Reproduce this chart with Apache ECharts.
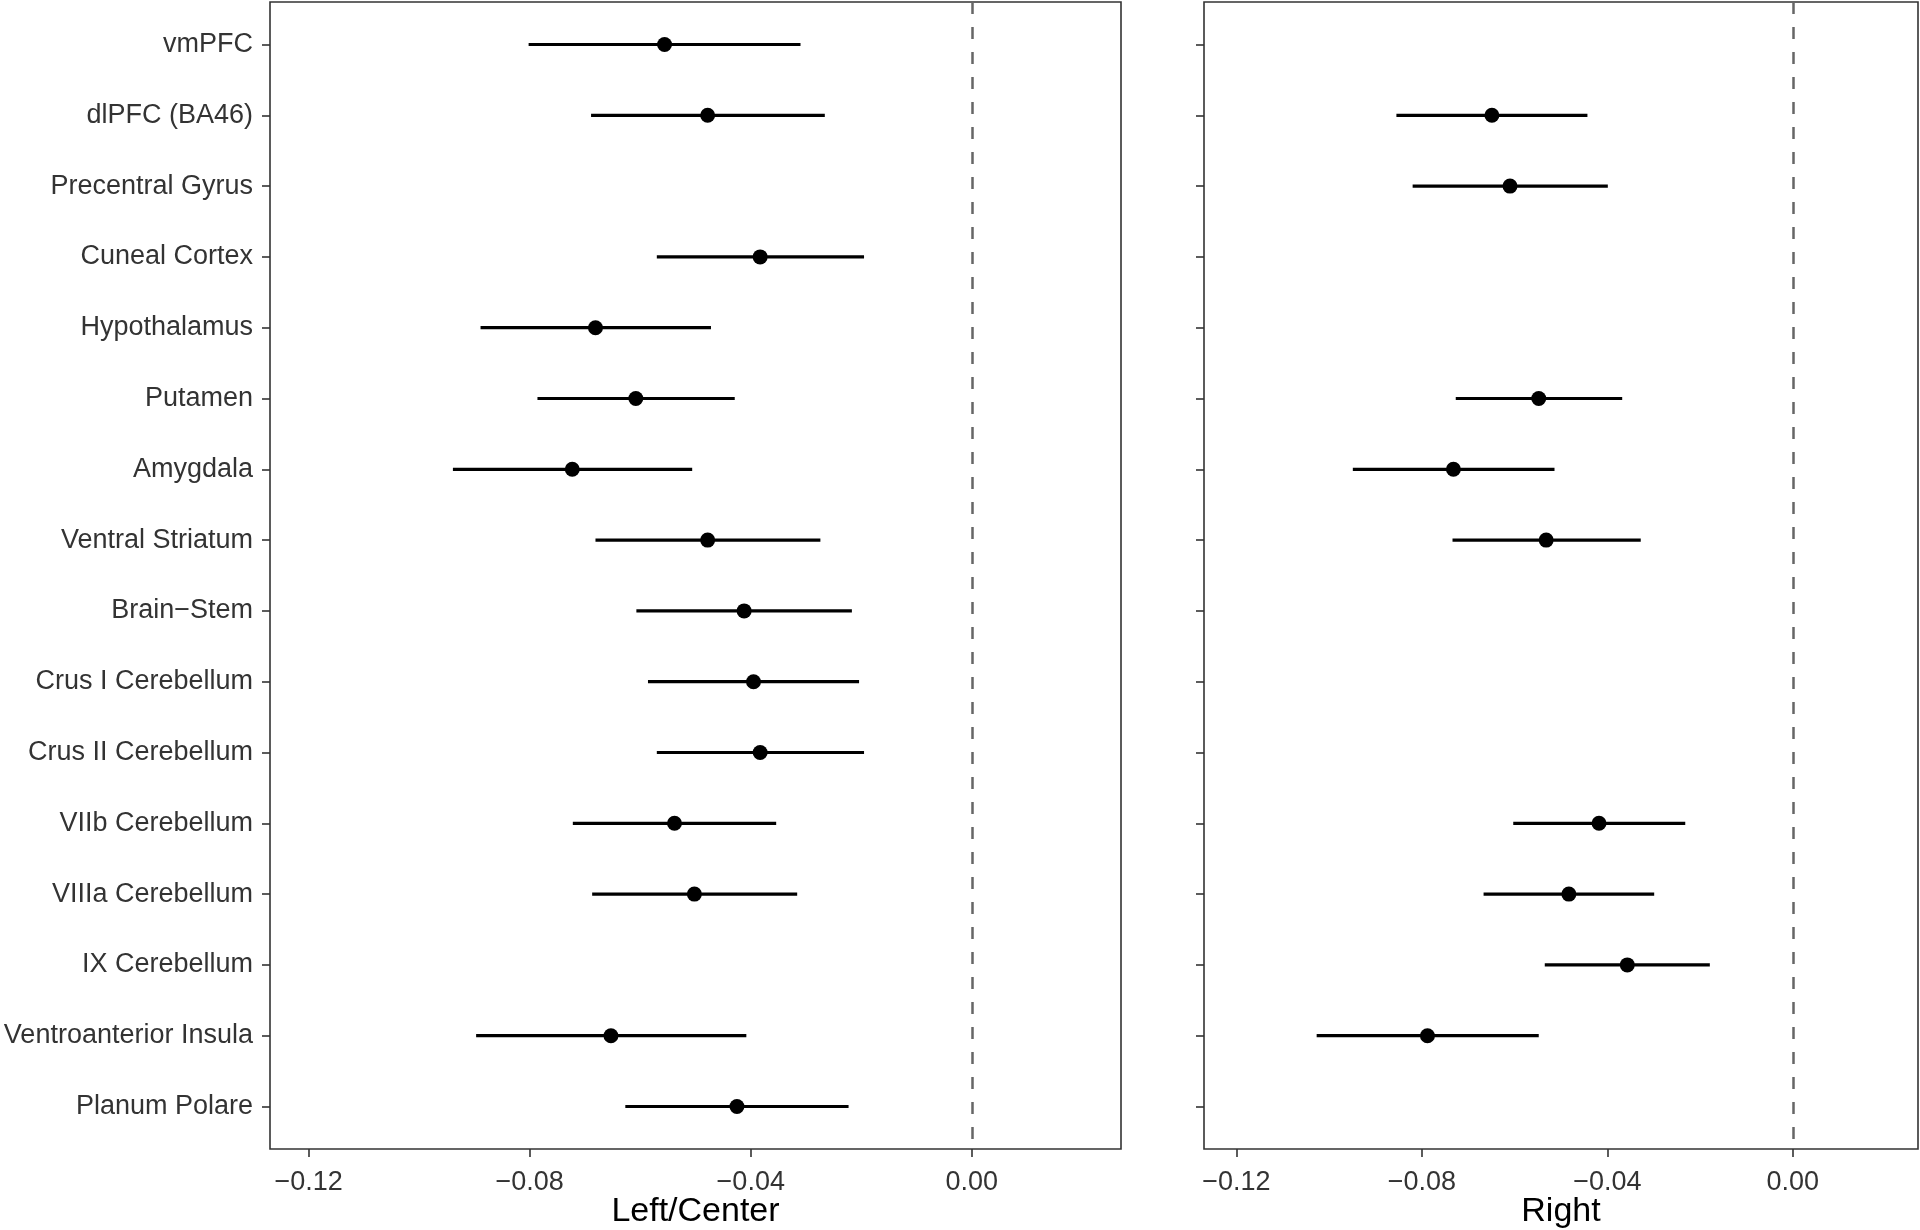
<!DOCTYPE html>
<html>
<head>
<meta charset="utf-8">
<script src="https://cdn.jsdelivr.net/npm/echarts@6/dist/echarts.min.js"></script>
<style>
html,body{margin:0;padding:0;background:#fff;}
#chart{width:1920px;height:1230px;}
</style>
</head>
<body>
<div id="chart"></div>
<script>
const categories = ['vmPFC','dlPFC (BA46)','Precentral Gyrus','Cuneal Cortex','Hypothalamus','Putamen','Amygdala','Ventral Striatum','Brain\u2212Stem','Crus I Cerebellum','Crus II Cerebellum','VIIb Cerebellum','VIIIa Cerebellum','IX Cerebellum','Ventroanterior Insula','Planum Polare'];

const leftEst = [-0.0556,-0.0478,null,-0.0383,-0.0681,-0.0608,-0.0723,-0.0478,-0.0412,-0.0395,-0.0383,-0.0538,-0.0502,null,-0.0653,-0.0425];
const leftLo  = [-0.0802,-0.0689,null,-0.0570,-0.0889,-0.0786,-0.0939,-0.0681,-0.0607,-0.0586,-0.0570,-0.0722,-0.0687,null,-0.0897,-0.0627];
const leftHi  = [-0.0310,-0.0266,null,-0.0195,-0.0472,-0.0429,-0.0506,-0.0274,-0.0217,-0.0204,-0.0195,-0.0354,-0.0316,null,-0.0408,-0.0223];

const rightEst = [null,-0.0649,-0.0610,null,null,-0.0548,-0.0732,-0.0532,null,null,null,-0.0418,-0.0483,-0.0357,-0.0788,null];
const rightLo  = [null,-0.0855,-0.0820,null,null,-0.0727,-0.0949,-0.0734,null,null,null,-0.0603,-0.0667,-0.0535,-0.1027,null];
const rightHi  = [null,-0.0443,-0.0399,null,null,-0.0368,-0.0514,-0.0328,null,null,null,-0.0232,-0.0299,-0.0179,-0.0548,null];

const xTicks = [-0.12,-0.08,-0.04,0];
const panelTitles = ['Left/Center','Right'];

const FONT = '"Liberation Sans", Arial, Helvetica, sans-serif';
const catIdx = categories.map((c,i)=>i);

function fmtX(v){ return (v < 0 ? '\u2212' : '') + Math.abs(v).toFixed(2); }

function xAxisFor(gi){
  return {
    type:'value', gridIndex:gi, min:-0.127, max:0.027, position:'bottom',
    name: panelTitles[gi], nameLocation:'middle', nameGap:46, nameMoveOverlap:false,
    nameTextStyle:{fontSize:34, color:'#000', fontFamily:FONT},
    axisLine:{show:false, onZero:false},
    splitLine:{show:false},
    axisTick:{show:true, customValues:xTicks, length:8, lineStyle:{color:'#333', width:1.6}},
    axisLabel:{customValues:xTicks, formatter:fmtX, fontSize:27, color:'#333', fontFamily:FONT, margin:20}
  };
}
function yAxisFor(gi, showLabels){
  return {
    type:'value', gridIndex:gi, inverse:true, min:-0.6, max:15.6, position:'left',
    axisLine:{show:false, onZero:false},
    splitLine:{show:false},
    axisTick:{show:true, customValues:catIdx, length:8, lineStyle:{color:'#333', width:1.6}},
    axisLabel:{show:showLabels, customValues:catIdx, formatter:(v)=>categories[Math.round(v)], fontSize:27, color:'#333', fontFamily:FONT, margin:17}
  };
}

function barData(lo, hi){
  const out=[];
  lo.forEach((v,i)=>{ if(v!==null) out.push([lo[i], hi[i], i]); });
  return out;
}
function ptData(est){
  const out=[];
  est.forEach((v,i)=>{ if(v!==null) out.push([v, i]); });
  return out;
}

function barSeries(gi, lo, hi){
  return {
    type:'custom', xAxisIndex:gi, yAxisIndex:gi, z:3,
    data: barData(lo, hi),
    encode:{x:[0,1], y:2},
    renderItem:function(params, api){
      const p1 = api.coord([api.value(0), api.value(2)]);
      const p2 = api.coord([api.value(1), api.value(2)]);
      return {type:'line', shape:{x1:p1[0], y1:p1[1], x2:p2[0], y2:p2[1]}, style:{stroke:'#000', lineWidth:3.2}};
    },
    markLine:{
      silent:true, symbol:'none', z:1,
      label:{show:false},
      lineStyle:{color:'#666', width:2.5, type:[12,13], opacity:1},
      data:[{xAxis:0}]
    }
  };
}
function ptSeries(gi, est){
  return {
    type:'scatter', xAxisIndex:gi, yAxisIndex:gi, z:4,
    data: ptData(est), symbol:'circle', symbolSize:15,
    itemStyle:{color:'#000', opacity:1}
  };
}

const chart = echarts.init(document.getElementById('chart'), null, {renderer:'canvas'});
chart.setOption({
  animation:false,
  backgroundColor:'#fff',
  grid:[
    {left:270, top:2, width:851, height:1147, show:true, borderColor:'#333', borderWidth:1.6, backgroundColor:'transparent', containLabel:false, outerBoundsMode:'none'},
    {left:1204, top:2, width:714, height:1147, show:true, borderColor:'#333', borderWidth:1.6, backgroundColor:'transparent', containLabel:false, outerBoundsMode:'none'}
  ],
  xAxis:[xAxisFor(0), xAxisFor(1)],
  yAxis:[yAxisFor(0,true), yAxisFor(1,false)],
  series:[
    barSeries(0, leftLo, leftHi), ptSeries(0, leftEst),
    barSeries(1, rightLo, rightHi), ptSeries(1, rightEst)
  ]
});
</script>
</body>
</html>
